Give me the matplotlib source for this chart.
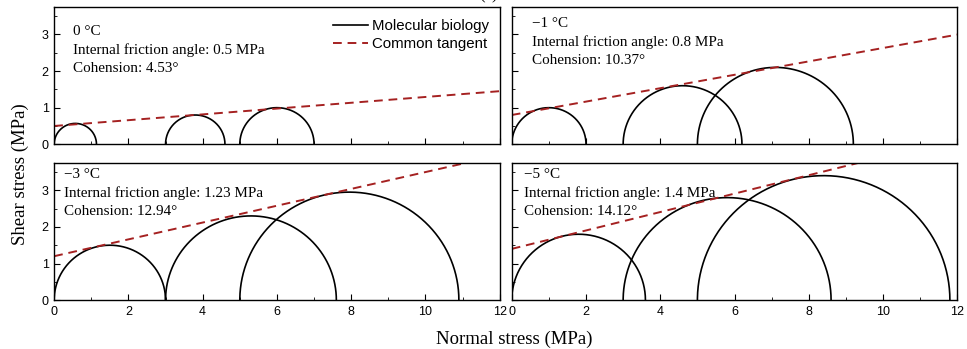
import numpy as np
import matplotlib
matplotlib.use("Agg")
import matplotlib.pyplot as plt
from matplotlib.ticker import MultipleLocator

plt.rcParams['font.family'] = ['Liberation Sans', 'DejaVu Sans']

# panel data
temps = ['0 \u00b0C', '\u22121 \u00b0C', '\u22123 \u00b0C', '\u22125 \u00b0C']
angle_labels = ['0.5', '0.8', '1.23', '1.4']
cohesion_labels = ['4.53', '10.37', '12.94', '14.12']

# Mohr circles: centres and radii per panel
centres = [
    [0.57, 3.8, 6.0],
    [1.0, 4.6, 7.1],
    [1.5, 5.3, 7.95],
    [1.8, 5.8, 8.4],
]
radii = [
    [0.57, 0.8, 1.0],
    [1.0, 1.6, 2.1],
    [1.5, 2.3, 2.95],
    [1.8, 2.8, 3.4],
]

# common tangent: intercept (MPa) and angle (deg)
tangent_c = [0.5, 0.8, 1.2, 1.4]
tangent_phi = [4.53, 10.37, 12.94, 14.12]

# where the annotation block sits in each panel (axes fraction)
text_pos = [(0.042, 0.87), (0.045, 0.93), (0.022, 0.96), (0.028, 0.965)]

line_red = '#a52121'
serif = ['Liberation Serif', 'DejaVu Serif']

fig, axes = plt.subplots(2, 2, figsize=(9.67, 3.49), dpi=100)
fig.subplots_adjust(left=0.056, right=0.990, top=0.980, bottom=0.140,
                    wspace=0.027, hspace=0.135)

for i, ax in enumerate(axes.flat):
    theta = np.linspace(0, np.pi, 200)
    for k, (c, r) in enumerate(zip(centres[i], radii[i])):
        ax.plot(c + r * np.cos(theta), r * np.sin(theta), color='black', lw=1.2,
                label='Molecular biology' if k == 0 else None)
    xs = np.array([0, 12])
    ax.plot(xs, tangent_c[i] + np.tan(np.radians(tangent_phi[i])) * xs,
            color=line_red, lw=1.4, ls=(0, (4.5, 3)), label='Common tangent')

    ax.set_xlim(0, 12)
    ax.set_ylim(0, 3.75)
    ax.xaxis.set_major_locator(MultipleLocator(2))
    ax.xaxis.set_minor_locator(MultipleLocator(1))
    ax.yaxis.set_major_locator(MultipleLocator(1))
    ax.yaxis.set_minor_locator(MultipleLocator(0.5))
    ax.tick_params(which='both', direction='in', labelsize=9, pad=4)
    ax.tick_params(which='major', length=4)
    ax.tick_params(which='minor', length=2.5)
    for sp in ax.spines.values():
        sp.set_linewidth(1.0)

    row, col = divmod(i, 2)
    if row == 0:
        ax.tick_params(labelbottom=False)
    if col == 1:
        ax.tick_params(labelleft=False)

    txt = (temps[i] + '\n'
           + 'Internal friction angle: ' + angle_labels[i] + ' MPa\n'
           + 'Cohension: ' + cohesion_labels[i] + '\u00b0')
    ax.text(text_pos[i][0], text_pos[i][1], txt,
            transform=ax.transAxes, va='top', ha='left',
            family=serif, fontsize=10.9, linespacing=1.5)

axes[0, 0].legend(loc='upper right', bbox_to_anchor=(0.977, 0.91),
                  frameon=False, fontsize=10.8, handlelength=2.3,
                  handletextpad=0.3, borderaxespad=0.0, labelspacing=0.25,
                  borderpad=0.0)

fig.text(0.532, 0.028, 'Normal stress (MPa)', ha='center', va='center',
         family=serif, fontsize=13.5)
fig.text(0.021, 0.50, 'Shear stress (MPa)', ha='center', va='center',
         rotation=90, family=serif, fontsize=13.5)
fig.text(0.505, 1.012, '(a)', ha='center', va='center', family=serif, fontsize=12)

fig.savefig('out.png', dpi=100)
